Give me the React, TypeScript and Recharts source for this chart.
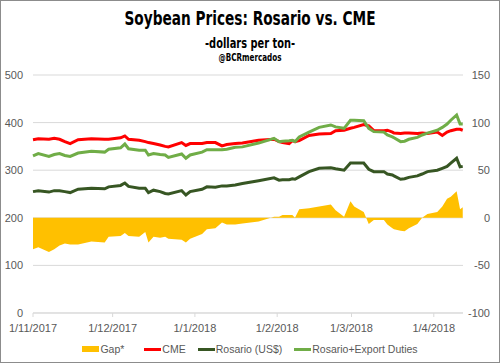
import {
  Area,
  CartesianGrid,
  ComposedChart,
  Legend,
  Line,
  XAxis,
  YAxis,
} from "recharts";

// Soybean prices, Nov 2017 - Apr 2018. Day index = days since 1/11/2017.
const C_GAP = "#ffc000";
const C_CME = "#ff0000";
const C_ROS = "#375623";
const C_DUTY = "#70ad47";
const C_TEXT = "#595959";

const days = [
  0, 2, 6, 8, 10, 12, 14, 17, 22, 27, 28.5, 33, 34.6, 36, 40, 42.3, 43.5, 45.4, 47.9, 49.8,
  51, 56, 57.6, 59.2, 63.7, 65.5, 68.7, 71.2, 73, 76.2, 78.9, 85, 90.8, 92.7, 94, 96.5, 97.7,
  98.7, 100.3, 104, 107.8, 112.2, 114, 117.2, 119.6, 121, 124.6, 126.5, 128.4, 132.2, 133.5,
  135.4, 136, 138.5, 140, 141.6, 144.8, 146.6, 148.6, 152.3, 154.2, 156, 157.4, 159.6, 160.9,
  161.9,
];
const cme = [
  364, 366, 365, 367, 365, 360, 356, 364, 366, 365, 365, 368, 372, 365, 363, 360, 358, 356,
  353, 350, 349, 358, 352, 356, 356, 358, 358, 351, 354, 356, 357, 363, 365, 360, 358, 356,
  362, 360, 362, 373, 376, 377, 383, 384, 388, 390, 396, 393, 383, 383, 384, 380, 378, 377,
  378, 378, 377, 378, 377, 380, 373, 380, 383, 386, 386, 384,
];
const rosario = [
  255, 257, 254, 257, 257, 255, 253, 260, 262, 261, 265, 268, 273, 266, 262, 262, 253, 258,
  255, 251, 250, 257, 248, 255, 260, 265, 264, 267, 267, 269, 272, 278, 284, 279, 280, 280,
  282, 281, 286, 297, 304, 305, 303, 300, 315, 315, 315, 302, 297, 297, 292, 290, 288, 281,
  282, 285, 288, 292, 297, 300, 304, 308, 315, 325, 307, 308,
];
const rosarioDuties = [
  330, 335, 329, 333, 335, 331, 329, 336, 340, 338, 344, 347, 355, 345, 342, 342, 332, 335,
  333, 332, 327, 334, 325, 332, 338, 343, 343, 343, 344, 348, 349, 357, 367, 360, 361, 362,
  363, 360, 370, 380, 390, 395, 391, 388, 405, 405, 404, 388, 381, 380, 374, 370, 368, 360,
  361, 365, 369, 374, 378, 384, 390, 397, 405, 416, 397, 397,
];
const gap = [
  -33, -31, -36, -33, -29, -27, -28, -28, -25, -26, -20, -19, -16, -19, -20, -15, -26, -20,
  -21, -20, -22, -23, -26, -22, -17, -12, -11, -5, -7, -7, -6, -4, 1, 1, 3, 3, 3, 0, 9, 10,
  12, 14, 8, 1, 17.5, 12, 6, -6.6, -2.3, -2.3, -7, -11, -12, -13.6, -14, -11, -6.6, 0, 4, 6,
  12, 20, 22, 28, 9, 11,
];

const monthDays = [0, 30, 61, 92, 120, 151];
const monthLabels = ["1/11/2017", "1/12/2017", "1/1/2018", "1/2/2018", "1/3/2018", "1/4/2018"];

const data = days.map((d, i) => ({
  d,
  gap: gap[i],
  cme: cme[i],
  rosario: rosario[i],
  duties: rosarioDuties[i],
}));

const FONT = "'Liberation Sans', Arial, sans-serif";
const TITLE_FONT = "'DejaVu Sans Condensed', 'DejaVu Sans', sans-serif";

const legendItems = [
  { name: "Gap*", color: C_GAP, box: true, after: 20 },
  { name: "CME", color: C_CME, box: false, after: 12 },
  { name: "Rosario (US$)", color: C_ROS, box: false, after: 12 },
  { name: "Rosario+Export Duties", color: C_DUTY, box: false, after: 0 },
];

function ChartLegend() {
  return (
    <div
      style={{
        display: "flex",
        justifyContent: "center",
        alignItems: "center",
        height: 22,
        fontFamily: FONT,
        fontSize: 10.5,
        color: C_TEXT,
      }}
    >
      {legendItems.map((it) => (
        <div key={it.name} style={{ display: "flex", alignItems: "center", marginRight: it.after }}>
          <span
            style={{
              display: "inline-block",
              width: 17,
              height: it.box ? 6 : 3,
              background: it.color,
              marginRight: 1,
            }}
          />
          <span>{it.name}</span>
        </div>
      ))}
    </div>
  );
}

function RightTick(props: any) {
  const { x, y, payload } = props;
  return (
    <text x={x + 27} y={y} dy="0.355em" textAnchor="end" fill={C_TEXT} fontSize={11} fontFamily={FONT}>
      {payload.value}
    </text>
  );
}

export default function App() {
  return (
    <div style={{ position: "absolute", left: 0, top: 0, width: 500, height: 363, background: "#fff" }}>
      <svg width={500} height={70} style={{ position: "absolute", left: 0, top: 0 }}>
        <text
          x={250}
          y={25}
          textAnchor="middle"
          fontFamily={TITLE_FONT}
          fontWeight="bold"
          fontSize={19}
          fill="#000"
          textLength={251}
          lengthAdjust="spacingAndGlyphs"
        >
          Soybean Prices: Rosario vs. CME
        </text>
        <text
          x={250}
          y={48}
          textAnchor="middle"
          fontFamily={TITLE_FONT}
          fontWeight="bold"
          fontSize={14}
          fill="#000"
          textLength={90}
          lengthAdjust="spacingAndGlyphs"
        >
          -dollars per ton-
        </text>
        <text
          x={250}
          y={61}
          textAnchor="middle"
          fontFamily={TITLE_FONT}
          fontWeight="bold"
          fontSize={10}
          fill="#000"
          textLength={63}
          lengthAdjust="spacingAndGlyphs"
        >
          @BCRmercados
        </text>
      </svg>
      <div style={{ position: "absolute", left: 0, top: 0 }}>
        <ComposedChart width={500} height={363} data={data} margin={{ top: 75, right: 0, bottom: 3, left: 0 }}>
          <CartesianGrid vertical={false} stroke="#d9d9d9" yAxisId="left" />
          <XAxis
            dataKey="d"
            type="number"
            domain={[0, 162]}
            ticks={monthDays}
            tickFormatter={(v: number) => monthLabels[monthDays.indexOf(v)] ?? ""}
            height={25}
            stroke="#d9d9d9"
            tickSize={4}
            tickMargin={7}
            tick={{ fontSize: 11, fill: C_TEXT, fontFamily: FONT }}
            interval={0}
          />
          <YAxis
            yAxisId="left"
            domain={[0, 500]}
            ticks={[0, 100, 200, 300, 400, 500]}
            width={33}
            axisLine={false}
            tickLine={false}
            tickSize={0}
            tickMargin={10}
            tick={{ fontSize: 11, fill: C_TEXT, fontFamily: FONT }}
          />
          <YAxis
            yAxisId="right"
            orientation="right"
            domain={[-100, 150]}
            ticks={[-100, -50, 0, 50, 100, 150]}
            width={37}
            axisLine={false}
            tickLine={false}
            tickSize={0}
            tickMargin={0}
            tick={<RightTick />}
          />
          <Area
            yAxisId="right"
            dataKey="gap"
            type="linear"
            baseValue={0}
            fill={C_GAP}
            fillOpacity={1}
            stroke="none"
            isAnimationActive={false}
          />
          <Line yAxisId="left" dataKey="cme" type="linear" stroke={C_CME} strokeWidth={3} dot={false} isAnimationActive={false} />
          <Line yAxisId="left" dataKey="rosario" type="linear" stroke={C_ROS} strokeWidth={3} dot={false} isAnimationActive={false} />
          <Line yAxisId="left" dataKey="duties" type="linear" stroke={C_DUTY} strokeWidth={3} dot={false} isAnimationActive={false} />
          <Legend verticalAlign="bottom" content={() => <ChartLegend />} wrapperStyle={{ height: 22 }} />
        </ComposedChart>
      </div>
      <div
        style={{
          position: "absolute",
          left: 0,
          top: 0,
          width: 500,
          height: 363,
          boxSizing: "border-box",
          border: "1px solid #8c8c8c",
          pointerEvents: "none",
        }}
      />
    </div>
  );
}
